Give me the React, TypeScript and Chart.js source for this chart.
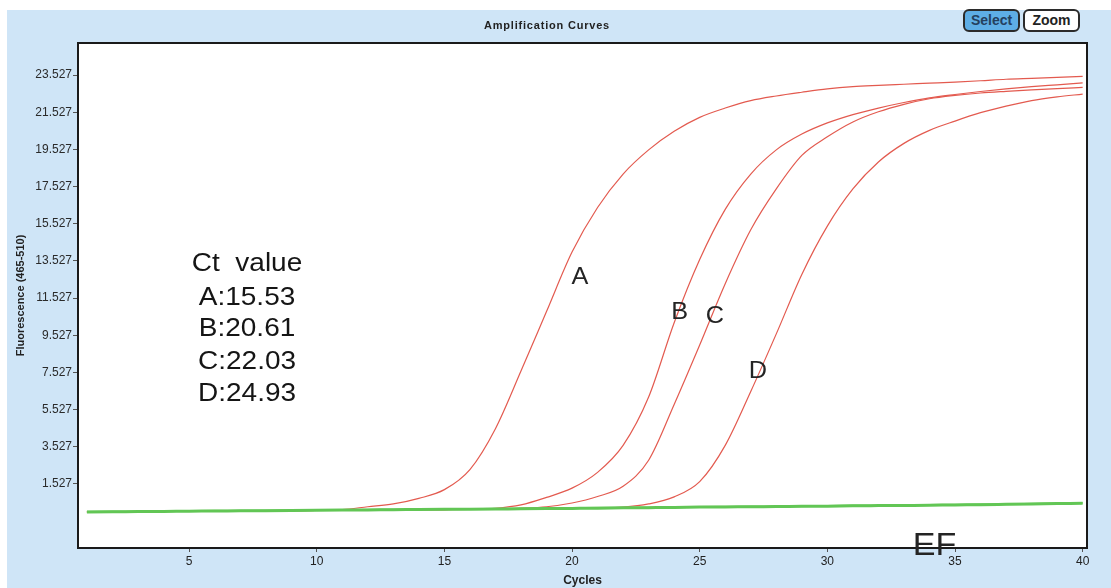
import React, { useEffect, useRef } from "react";
import { Chart, registerables } from "chart.js";

Chart.register(...registerables);

// ---- data ----
const CYCLES = [1, 2, 3, 4, 5, 6, 7, 8, 9, 10, 11, 12, 13, 14, 15, 16, 17, 18, 19, 20, 21, 22, 23, 24, 25, 26, 27, 28, 29, 30, 31, 32, 33, 34, 35, 36, 37, 38, 39, 40];

const SERIES_A = [0.02, 0.03, 0.04, 0.05, 0.06, 0.07, 0.08, 0.09, 0.1, 0.12, 0.15, 0.3, 0.45, 0.75, 1.22, 2.3, 4.5, 7.6, 10.8, 14.0, 16.4, 18.2, 19.5, 20.5, 21.25, 21.75, 22.15, 22.4, 22.6, 22.78, 22.9, 22.97, 23.03, 23.09, 23.15, 23.22, 23.3, 23.35, 23.4, 23.45];
const SERIES_B = [0.02, 0.03, 0.04, 0.05, 0.06, 0.06, 0.07, 0.08, 0.09, 0.1, 0.11, 0.12, 0.13, 0.14, 0.15, 0.17, 0.22, 0.4, 0.8, 1.3, 2.15, 3.6, 6.2, 10.2, 13.6, 16.3, 18.2, 19.5, 20.35, 20.95, 21.4, 21.75, 22.05, 22.3, 22.48, 22.64, 22.78, 22.9, 23.0, 23.1];
const SERIES_C = [0.02, 0.03, 0.04, 0.05, 0.06, 0.06, 0.07, 0.08, 0.09, 0.1, 0.11, 0.12, 0.13, 0.14, 0.15, 0.16, 0.18, 0.22, 0.3, 0.5, 0.85, 1.4, 2.8, 5.8, 9.0, 12.3, 15.2, 17.4, 19.2, 20.2, 21.0, 21.55, 21.95, 22.25, 22.43, 22.56, 22.65, 22.73, 22.8, 22.86];
const SERIES_D = [0.02, 0.03, 0.04, 0.05, 0.06, 0.06, 0.07, 0.08, 0.09, 0.1, 0.11, 0.12, 0.13, 0.14, 0.15, 0.16, 0.17, 0.18, 0.2, 0.22, 0.24, 0.28, 0.45, 0.83, 1.65, 3.6, 6.5, 9.6, 12.8, 15.4, 17.4, 18.85, 19.85, 20.55, 21.05, 21.5, 21.85, 22.15, 22.35, 22.5];
const SERIES_E = [0.02, 0.03, 0.04, 0.05, 0.06, 0.07, 0.08, 0.09, 0.1, 0.11, 0.12, 0.13, 0.14, 0.15, 0.16, 0.17, 0.18, 0.19, 0.2, 0.21, 0.22, 0.24, 0.25, 0.26, 0.28, 0.29, 0.3, 0.31, 0.32, 0.33, 0.35, 0.36, 0.37, 0.38, 0.4, 0.41, 0.43, 0.45, 0.47, 0.49];
const SERIES_F = [0.03, 0.04, 0.05, 0.06, 0.07, 0.08, 0.09, 0.1, 0.11, 0.12, 0.13, 0.14, 0.15, 0.16, 0.17, 0.18, 0.19, 0.2, 0.21, 0.22, 0.24, 0.25, 0.26, 0.27, 0.29, 0.3, 0.31, 0.32, 0.33, 0.34, 0.36, 0.37, 0.38, 0.4, 0.41, 0.43, 0.44, 0.46, 0.48, 0.5];

const Y_TICKS = [1.527, 3.527, 5.527, 7.527, 9.527, 11.527, 13.527, 15.527, 17.527, 19.527, 21.527, 23.527];
const X_TICKS = [5, 10, 15, 20, 25, 30, 35, 40];

const CT_LINES = ["Ct  value", "A:15.53", "B:20.61", "C:22.03", "D:24.93"];
const CURVE_LABELS = ["A", "B", "C", "D", "EF"];

// label anchor positions (data coordinates)
const CT_POS_X = 7.27;
const CT_POS_Y = [13.33, 11.55, 9.83, 8.1, 6.38];
const CURVE_LABEL_X = [20.31, 24.22, 25.6, 27.28, 34.2];
const CURVE_LABEL_Y = [12.63, 10.75, 10.53, 7.56, -1.85];

const FONT = "Arial, 'Liberation Sans', sans-serif";
const RED = "#e35a4f";

const pts = (ys: number[]) => CYCLES.map((c, i) => ({ x: c, y: ys[i] }));

const decoPlugin = {
  id: "deco",
  beforeDraw(chart: any) {
    const { ctx, width, height, chartArea: a } = chart;
    ctx.save();
    ctx.fillStyle = "#ffffff";
    ctx.fillRect(0, 0, width, height);
    ctx.fillStyle = "#cfe5f7";
    ctx.fillRect(7, 10, width - 7, height - 10);
    ctx.fillStyle = "#ffffff";
    ctx.fillRect(a.left, a.top, a.right - a.left, a.bottom - a.top);
    // title
    ctx.fillStyle = "#222";
    ctx.font = `bold 11px ${FONT}`;
    (ctx as any).letterSpacing = "0.8px";
    ctx.textAlign = "center";
    ctx.textBaseline = "middle";
    ctx.fillText("Amplification Curves", 547, 26);
    (ctx as any).letterSpacing = "0px";
    ctx.restore();
  },
  afterDraw(chart: any) {
    const { ctx, chartArea: a, scales } = chart;
    const xs = scales.x;
    const ys = scales.y;
    ctx.save();
    ctx.strokeStyle = "#1a1a1a";
    ctx.lineWidth = 2;
    ctx.strokeRect(a.left, a.top, a.right - a.left, a.bottom - a.top);

    ctx.fillStyle = "#151515";
    ctx.textAlign = "center";
    ctx.textBaseline = "middle";
    // Ct value block
    CT_LINES.forEach((t, i) => {
      const px = xs.getPixelForValue(CT_POS_X);
      const py = ys.getPixelForValue(CT_POS_Y[i]);
      ctx.save();
      ctx.translate(px, py);
      ctx.scale(1.12, 1);
      ctx.font = `25px ${FONT}`;
      ctx.fillText(t, 0, 0);
      ctx.restore();
    });
    // curve labels
    CURVE_LABELS.forEach((t, i) => {
      const px = xs.getPixelForValue(CURVE_LABEL_X[i]);
      const py = ys.getPixelForValue(CURVE_LABEL_Y[i]);
      ctx.save();
      ctx.translate(px, py);
      ctx.scale(1.1, 1);
      ctx.font = t === "EF" ? `31px ${FONT}` : `23px ${FONT}`;
      ctx.fillStyle = "#242424";
      ctx.fillText(t, 0, 0);
      ctx.restore();
    });
    ctx.restore();
  },
};

export default function App() {
  const ref = useRef<HTMLCanvasElement | null>(null);

  useEffect(() => {
    if (!ref.current) return;
    const red = (label: string, ys: number[]) => ({
      label,
      data: pts(ys),
      borderColor: RED,
      borderWidth: 1.2,
      pointRadius: 0,
      cubicInterpolationMode: "monotone",
      fill: false,
      order: 2,
    });
    const chart = new Chart(ref.current, {
      type: "line",
      data: {
        datasets: [
          { label: "E", data: pts(SERIES_E), borderColor: "#62c655", borderWidth: 3, pointRadius: 0, cubicInterpolationMode: "monotone", order: 0 },
          { label: "F", data: pts(SERIES_F), borderColor: "#86d877", borderWidth: 2, pointRadius: 0, cubicInterpolationMode: "monotone", order: 1 },
          red("A", SERIES_A),
          red("B", SERIES_B),
          red("C", SERIES_C),
          red("D", SERIES_D),
        ],
      },
      options: {
        responsive: false,
        animation: false,
        events: [],
        layout: { padding: { top: 43, left: 0, right: 24, bottom: 0 } },
        plugins: {
          legend: { display: false },
          tooltip: { enabled: false },
          title: { display: false },
        },
        scales: {
          x: {
            type: "linear",
            min: 0.65,
            max: 40.17,
            afterBuildTicks: (s: any) => {
              s.ticks = X_TICKS.map((v) => ({ value: v }));
            },
            afterFit: (s: any) => {
              s.height = 40;
            },
            ticks: {
              autoSkip: false,
              maxRotation: 0,
              padding: 2,
              color: "#222",
              font: { family: FONT, size: 12 },
              callback: (v: any) => String(v),
            },
            grid: { drawOnChartArea: false, drawTicks: true, tickLength: 4, color: "#555" },
            border: { display: false },
            title: {
              display: true,
              text: "Cycles",
              color: "#222",
              font: { family: FONT, size: 12, weight: "bold" },
              padding: { top: 0, bottom: 0 },
            },
          },
          y: {
            type: "linear",
            min: -1.92,
            max: 25.25,
            afterBuildTicks: (s: any) => {
              s.ticks = Y_TICKS.map((v) => ({ value: v }));
            },
            afterFit: (s: any) => {
              s.width = 78;
            },
            ticks: {
              autoSkip: false,
              padding: 1,
              color: "#2a2a2a",
              font: { family: FONT, size: 12 },
              callback: (v: any) => Number(v).toFixed(3),
            },
            grid: { drawOnChartArea: false, drawTicks: true, tickLength: 5, color: "#555" },
            border: { display: false },
            title: {
              display: true,
              text: "Fluorescence (465-510)",
              color: "#222",
              font: { family: FONT, size: 11, weight: "bold" },
              padding: { top: 14, bottom: 0 },
            },
          },
        },
      },
      plugins: [decoPlugin],
    } as any);
    return () => chart.destroy();
  }, []);

  const btn: React.CSSProperties = {
    position: "fixed",
    top: 9,
    height: 19,
    border: "2px solid #2b2b2b",
    borderRadius: 6,
    font: `bold 14px ${FONT}`,
    lineHeight: "19px",
    textAlign: "center",
    boxSizing: "content-box",
  };

  return (
    <div>
      <canvas ref={ref} width={1111} height={588} style={{ position: "fixed", left: 0, top: 0, display: "block" }} />
      <div style={{ ...btn, left: 963, width: 53, background: "#5eaee6", color: "#24405e" }}>Select</div>
      <div style={{ ...btn, left: 1023, width: 53, background: "#ffffff", color: "#222" }}>Zoom</div>
    </div>
  );
}
